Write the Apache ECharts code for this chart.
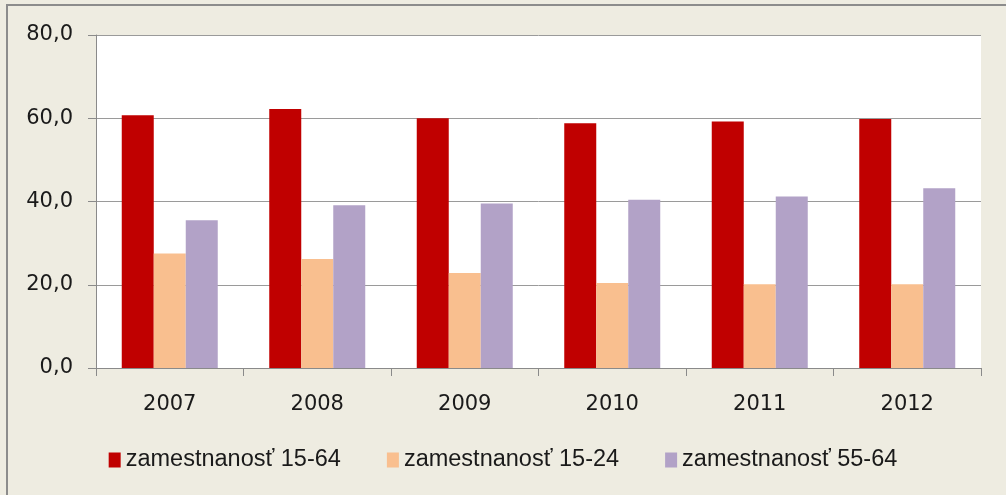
<!DOCTYPE html>
<html>
<head>
<meta charset="utf-8">
<script src="https://cdn.jsdelivr.net/npm/echarts@6/dist/echarts.min.js"></script>
<style>
  html, body { margin: 0; padding: 0; background: #eeece1; }
  #main { width: 1006px; height: 495px; }
</style>
</head>
<body>
<div id="main"></div>
<script>
const years = ['2007', '2008', '2009', '2010', '2011', '2012'];
const emp1564 = [60.7, 62.2, 60.0, 58.8, 59.2, 59.8];
const emp1524 = [27.5, 26.2, 22.8, 20.4, 20.1, 20.1];
const emp5564 = [35.5, 39.1, 39.5, 40.4, 41.2, 43.2];
const seriesNames = ['zamestnanosť 15-64', 'zamestnanosť 15-24', 'zamestnanosť 55-64'];

let myChart = echarts.init(document.getElementById('main'));

const axisGrey = '#8a8a8a';
const labelFont = 'DejaVu Sans';

myChart.setOption({
  backgroundColor: '#eeece1',
  animation: false,
  graphic: [
    { type: 'line', shape: { x1: 6, y1: 5, x2: 1006, y2: 5 }, style: { stroke: '#8c8c8c', lineWidth: 2 } },
    { type: 'line', shape: { x1: 7, y1: 4, x2: 7, y2: 495 }, style: { stroke: '#8c8c8c', lineWidth: 2 } }
  ],
  grid: {
    left: 96, right: 25, top: 35, bottom: 127,
    show: true, backgroundColor: '#ffffff', borderWidth: 0
  },
  legend: {
    bottom: 18,
    left: 'center',
    itemWidth: 12,
    itemHeight: 15,
    itemGap: 46,
    icon: 'rect',
    textStyle: { fontFamily: 'Liberation Sans', fontSize: 23.5, color: '#1a1a1a' },
    data: seriesNames
  },
  xAxis: {
    type: 'category',
    data: years,
    axisLine: { lineStyle: { color: axisGrey, width: 1 } },
    axisTick: { show: true, length: 8, lineStyle: { color: axisGrey } },
    axisLabel: { fontFamily: labelFont, fontSize: 21, color: '#1a1a1a', margin: 26 }
  },
  yAxis: {
    type: 'value',
    min: 0, max: 80, interval: 20,
    axisLine: { show: true, lineStyle: { color: axisGrey, width: 1 } },
    axisTick: { show: true, length: 8, lineStyle: { color: axisGrey } },
    axisLabel: {
      fontFamily: labelFont, fontSize: 21, color: '#1a1a1a', margin: 23,
      formatter: v => v.toFixed(1).replace('.', ',')
    },
    splitLine: { lineStyle: { color: '#9a9a9a', width: 1 } }
  },
  series: [
    { name: seriesNames[0], type: 'bar', data: emp1564, barWidth: 32, barGap: '0%',
      itemStyle: { color: '#c00000' } },
    { name: seriesNames[1], type: 'bar', data: emp1524, barWidth: 32, barGap: '0%',
      itemStyle: { color: '#f9bf8f' } },
    { name: seriesNames[2], type: 'bar', data: emp5564, barWidth: 32, barGap: '0%',
      itemStyle: { color: '#b2a2c7' } }
  ]
});
</script>
</body>
</html>
